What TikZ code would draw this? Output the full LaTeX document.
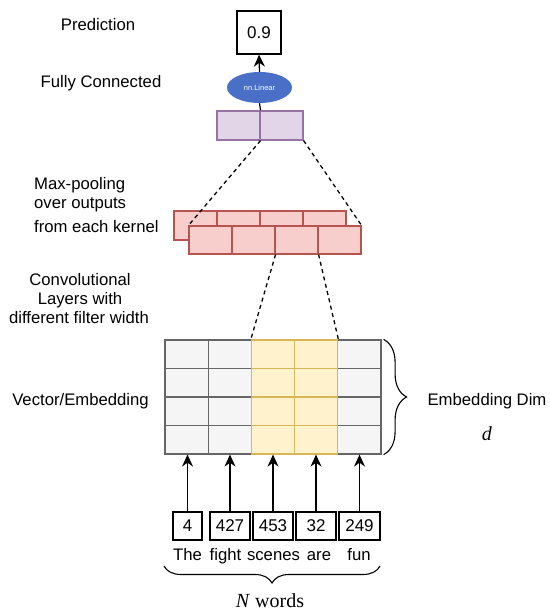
\documentclass[tikz,border=0pt]{standalone}
\usepackage{fontspec}
\setmainfont{Liberation Sans}
\newfontfamily\timesfont{Liberation Serif}
\usepackage{tikz}
\usepackage{xcolor}
\usetikzlibrary{arrows.meta,decorations.pathreplacing,shapes.geometric,positioning}
\definecolor{grayfill}{HTML}{F5F5F5}
\definecolor{graystroke}{HTML}{666666}
\definecolor{yellowfill}{HTML}{FFF2CC}
\definecolor{yellowstroke}{HTML}{D6B656}
\definecolor{redfill}{HTML}{F8CECC}
\definecolor{redstroke}{HTML}{B85450}
\definecolor{purplefill}{HTML}{E1D5E7}
\definecolor{purplestroke}{HTML}{9673A6}
\definecolor{linblue}{HTML}{4A6FC6}

\begin{document}
\begin{tikzpicture}[x=1pt,y=-1pt,
    lbl/.style={font=\fontsize{16.7}{20}\selectfont, inner sep=0pt, anchor=base},
    cellbase/.style={line width=1.2pt, inner sep=0pt, minimum width=43.2pt, minimum height=28.5pt},
    greycell/.style={cellbase, draw=graystroke, fill=grayfill},
    yellowcell/.style={cellbase, draw=yellowstroke, fill=yellowfill},
    poolcell/.style={draw=redstroke, fill=redfill, line width=1.1pt, inner sep=0pt, minimum width=43pt},
    fccell/.style={draw=purplestroke, fill=purplefill, line width=1.1pt, inner sep=0pt, minimum width=43pt, minimum height=29pt},
    wordbox/.style={draw, line width=1.3pt, inner sep=0pt, minimum height=28pt, font=\fontsize{17}{20}\selectfont},
    arr/.style={line width=1.3pt, -{Stealth[length=12pt,width=11pt]}},
    dashline/.style={line width=1.3pt, dash pattern=on 4pt off 3.5pt},
    bracestyle/.style={line width=1.1pt, decorate}]
  \useasboundingbox (0,0) rectangle (549,612);

  \node[lbl] (predlbl) at (98,31) {Prediction};
  \node[lbl] (fclbl) at (101,88) {Fully Connected};
  \node[lbl, anchor=base west] (mp1) at (34,190) {Max-pooling};
  \node[lbl, anchor=base west] (mp2) at (34,208) {over outputs};
  \node[lbl, anchor=base west] (mp3) at (34,232) {from each kernel};
  \node[lbl] (cv1) at (80,285) {Convolutional};
  \node[lbl] (cv2) at (80,304) {Layers with};
  \node[lbl] (cv3) at (79,323) {different filter width};
  \node[lbl] (veclbl) at (80.5,405) {Vector/Embedding};
  \node[lbl] (dimlbl) at (487,405) {Embedding Dim};
  \node[inner sep=0pt, anchor=base] (dlbl) at (487,440) {\timesfont\fontsize{20}{24}\selectfont\textit{d}};

  \node[draw, line width=1.3pt, minimum width=44pt, minimum height=43pt, inner sep=0pt,
        font=\fontsize{17}{20}\selectfont] (pred) at (259,32.5) {0.9};
  \node[ellipse, fill=linblue, minimum width=65pt, minimum height=31pt, inner sep=0pt,
        text=white, font=\fontsize{7.5}{9}\selectfont] (lin) at (259.5,87.5) {nn.Linear};
  \draw[arr] (lin.north) -- (pred.south);

  \node[fccell] (fc1) at (238.5,125.5) {};
  \node[fccell] (fc2) at (281.5,125.5) {};
  \draw[line width=1.2pt] (lin.south) -- (fc1.north east);

  \foreach \c in {1,...,4}
    \node[poolcell, minimum height=29pt] (bk\c) at ({174+43*(\c-0.5)},225.5) {};
  \foreach \c in {1,...,4}
    \node[poolcell, minimum height=28pt] (fr\c) at ({189+43*(\c-0.5)},240) {};

  \draw[dashline] (fc1.south east) -- (fr1.north west);
  \draw[dashline] (fc2.south east) -- (fr4.north east);

  \foreach \c/\s in {1/greycell,2/greycell,5/greycell,3/yellowcell,4/yellowcell}
    \foreach \r in {1,...,4}
      \node[\s] (e\c\r) at ({165+43.2*(\c-0.5)},{340+28.5*(\r-0.5)}) {};

  \draw[dashline] (fr2.south east) -- (e31.north west);
  \draw[dashline] (fr3.south east) -- (e41.north east);

  \node[wordbox, minimum width=29pt] (w1) at (187.5,526) {4};
  \node[wordbox, minimum width=40pt] (w2) at (230,526) {427};
  \node[wordbox, minimum width=40pt] (w3) at (273,526) {453};
  \node[wordbox, minimum width=40pt] (w4) at (316,526) {32};
  \node[wordbox, minimum width=41pt] (w5) at (359.5,526) {249};
  \foreach \i in {1,...,5}
    \draw[arr] (w\i.north) -- (w\i.north |- e\i4.south);

  \node[lbl] (t1) at (187.5,560) {The};
  \node[lbl] (t2) at (225.5,560) {fight};
  \node[lbl] (t3) at (273.5,560) {scenes};
  \node[lbl] (t4) at (319,560) {are};
  \node[lbl] (t5) at (359,560) {fun};

  \draw[bracestyle, decoration={brace, amplitude=23pt}]
    ([xshift=2pt]e51.north east) -- ([xshift=2pt]e54.south east);

  \coordinate (bl) at (164,566);
  \coordinate (br) at (380,566);
  \draw[bracestyle, decoration={brace, mirror, amplitude=17pt}] (bl) -- (br);
  \node[inner sep=0pt, anchor=base] (nwords) at (270,607)
    {\timesfont\fontsize{20}{24}\selectfont\textit{N} words};
\end{tikzpicture}
\end{document}
